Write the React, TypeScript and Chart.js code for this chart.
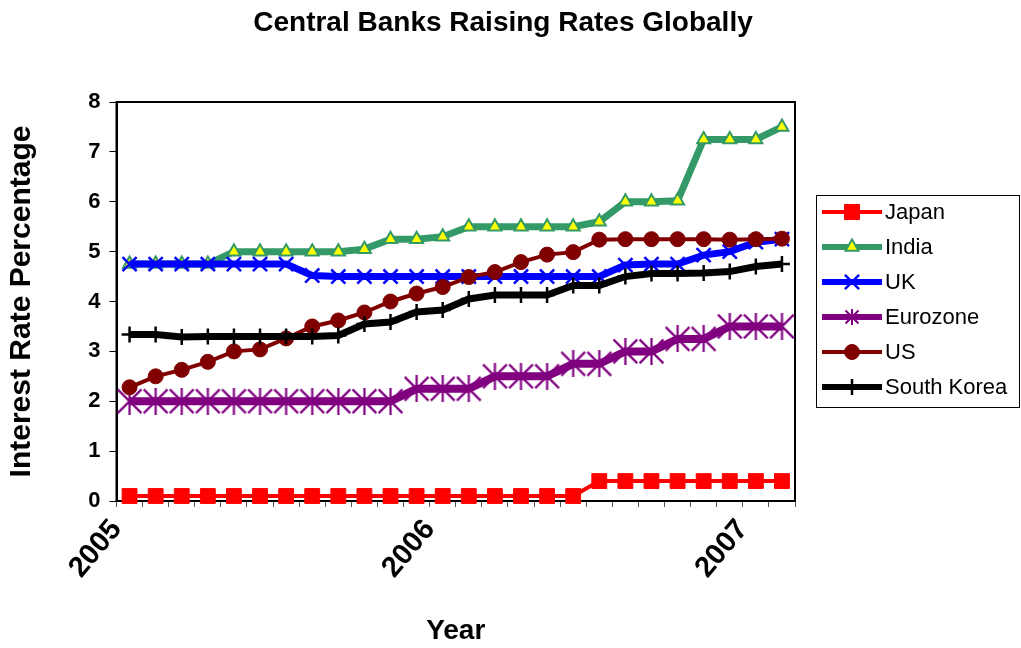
import React, { useEffect, useRef } from 'react';
import { Chart, registerables } from 'chart.js';
import { drawPoint } from 'chart.js/helpers';

Chart.register(...registerables);

// ---------------- data ----------------
const TITLE = 'Central Banks Raising Rates Globally';
const X_TITLE = 'Year';
const Y_TITLE = 'Interest Rate Percentage';

// monthly observations, Jan 2005 .. Feb 2007
const MONTHS = [
  'Jan 2005', 'Feb 2005', 'Mar 2005', 'Apr 2005', 'May 2005', 'Jun 2005',
  'Jul 2005', 'Aug 2005', 'Sep 2005', 'Oct 2005', 'Nov 2005', 'Dec 2005',
  'Jan 2006', 'Feb 2006', 'Mar 2006', 'Apr 2006', 'May 2006', 'Jun 2006',
  'Jul 2006', 'Aug 2006', 'Sep 2006', 'Oct 2006', 'Nov 2006', 'Dec 2006',
  'Jan 2007', 'Feb 2007',
];
const YEAR_LABELS = ['2005', '2006', '2007'];
const YEAR_START_INDEX = [0, 12, 24];
const Y_MIN = 0;
const Y_MAX = 8;

const SERIES_NAMES = ['Japan', 'India', 'UK', 'Eurozone', 'US', 'South Korea'];

const japan = [0.1, 0.1, 0.1, 0.1, 0.1, 0.1, 0.1, 0.1, 0.1, 0.1, 0.1, 0.1, 0.1, 0.1, 0.1, 0.1, 0.1, 0.1, 0.4, 0.4, 0.4, 0.4, 0.4, 0.4, 0.4, 0.4];
const india = [4.75, 4.75, 4.75, 4.75, 5, 5, 5, 5, 5, 5.05, 5.25, 5.25, 5.3, 5.5, 5.5, 5.5, 5.5, 5.5, 5.6, 6, 6, 6.02, 7.25, 7.25, 7.25, 7.5];
const uk = [4.75, 4.75, 4.75, 4.75, 4.75, 4.75, 4.75, 4.52, 4.5, 4.5, 4.5, 4.5, 4.5, 4.5, 4.5, 4.5, 4.5, 4.5, 4.5, 4.73, 4.75, 4.75, 4.93, 5.0, 5.19, 5.25];
const eurozone = [2, 2, 2, 2, 2, 2, 2, 2, 2, 2, 2, 2.25, 2.25, 2.25, 2.5, 2.5, 2.5, 2.75, 2.75, 3, 3, 3.25, 3.25, 3.5, 3.5, 3.5];
const us = [2.28, 2.5, 2.63, 2.79, 3.0, 3.04, 3.26, 3.5, 3.62, 3.78, 4.0, 4.16, 4.29, 4.49, 4.59, 4.79, 4.94, 4.99, 5.24, 5.25, 5.25, 5.25, 5.25, 5.24, 5.25, 5.26];
const southKorea = [3.34, 3.34, 3.29, 3.3, 3.3, 3.3, 3.3, 3.3, 3.32, 3.55, 3.59, 3.79, 3.83, 4.05, 4.13, 4.13, 4.13, 4.32, 4.32, 4.5, 4.56, 4.56, 4.57, 4.6, 4.7, 4.75];

const SERIES_VALUES = [japan, india, uk, eurozone, us, southKorea];

// ---------------- styles ----------------
const FONT = '"Liberation Sans", Arial, Helvetica, sans-serif';

function makeStar(size: number, color: string, lw: number) {
  const c = document.createElement('canvas');
  c.width = size;
  c.height = size;
  const g = c.getContext('2d')!;
  g.strokeStyle = color;
  g.lineWidth = lw;
  const m = lw / 2 + 0.5;
  g.beginPath();
  g.moveTo(m, m);
  g.lineTo(size - m, size - m);
  g.moveTo(size - m, m);
  g.lineTo(m, size - m);
  g.moveTo(size / 2, 0);
  g.lineTo(size / 2, size);
  g.stroke();
  return c;
}

type Style = {
  color: string;
  fill: string;
  lineWidth: number;
  legendLineWidth: number;
  pointStyle: any;
  radius: number;
  pointBorderWidth: number;
  legendPoint?: any;
};

function buildStyles(): Style[] {
  return [
    { color: '#FF0000', fill: '#FF0000', lineWidth: 4, legendLineWidth: 4, pointStyle: 'rect', radius: 10.5, pointBorderWidth: 1 },
    { color: '#339966', fill: '#FFFF00', lineWidth: 7, legendLineWidth: 6, pointStyle: 'triangle', radius: 7.5, pointBorderWidth: 2 },
    { color: '#0000FF', fill: '#0000FF', lineWidth: 7, legendLineWidth: 6, pointStyle: 'crossRot', radius: 10, pointBorderWidth: 2.5 },
    { color: '#800080', fill: '#800080', lineWidth: 8, legendLineWidth: 6, pointStyle: makeStar(27, '#800080', 2.2), radius: 13, pointBorderWidth: 2, legendPoint: makeStar(16, '#800080', 2) },
    { color: '#800000', fill: '#800000', lineWidth: 4, legendLineWidth: 4, pointStyle: 'circle', radius: 7.5, pointBorderWidth: 1 },
    { color: '#000000', fill: '#000000', lineWidth: 7, legendLineWidth: 6, pointStyle: 'cross', radius: 8, pointBorderWidth: 2.5 },
  ];
}

export default function App() {
  const ref = useRef<HTMLCanvasElement | null>(null);

  useEffect(() => {
    document.body.style.margin = '0';
    const canvas = ref.current;
    if (!canvas) return;
    const styles = buildStyles();

    const datasets = SERIES_NAMES.map((name, si) => {
      const st = styles[si];
      return {
        label: name,
        data: SERIES_VALUES[si].map((v, i) => ({ x: i + 0.5, y: v })),
        borderColor: st.color,
        backgroundColor: st.fill,
        borderWidth: st.lineWidth,
        pointStyle: st.pointStyle,
        pointRadius: st.radius,
        pointBorderColor: st.color,
        pointBackgroundColor: st.fill,
        pointBorderWidth: st.pointBorderWidth,
        tension: 0,
        order: SERIES_NAMES.length - si,
        clip: 8,
      };
    });

    const overlay = {
      id: 'overlay',
      beforeDatasetsDraw(chart: any) {
        const { ctx, chartArea } = chart;
        ctx.save();
        ctx.strokeStyle = '#000';
        ctx.lineWidth = 2;
        ctx.strokeRect(chartArea.left, chartArea.top, chartArea.right - chartArea.left, chartArea.bottom - chartArea.top);
        ctx.restore();
      },
      afterDraw(chart: any) {
        const ctx = chart.ctx as CanvasRenderingContext2D;
        ctx.save();
        ctx.fillStyle = '#000';
        ctx.textAlign = 'center';
        ctx.textBaseline = 'middle';
        ctx.font = `bold 28px ${FONT}`;
        ctx.fillText(TITLE, 503, 23);

        // legend
        ctx.lineWidth = 1;
        ctx.strokeStyle = '#000';
        ctx.strokeRect(816.5, 195.5, 203, 212);
        ctx.font = `22px ${FONT}`;
        ctx.textAlign = 'left';
        SERIES_NAMES.forEach((name, si) => {
          const st = styles[si];
          const y = 212 + si * 35;
          ctx.strokeStyle = st.color;
          ctx.lineWidth = st.legendLineWidth;
          ctx.beginPath();
          ctx.moveTo(822, y);
          ctx.lineTo(882, y);
          ctx.stroke();
          ctx.fillStyle = st.fill;
          ctx.strokeStyle = st.color;
          ctx.lineWidth = st.pointBorderWidth;
          drawPoint(ctx, {
            pointStyle: st.legendPoint || st.pointStyle,
            rotation: 0,
            radius: st.radius,
            borderWidth: st.pointBorderWidth,
          } as any, 852, y);
          ctx.fillStyle = '#000';
          ctx.fillText(name, 885, y + 1);
        });
        ctx.restore();
      },
    };

    const chart = new Chart(canvas, {
      type: 'line',
      data: { datasets: datasets as any },
      options: {
        animation: false,
        responsive: false,
        events: [],
        layout: { padding: { top: 102, right: 226, left: 0, bottom: 0 } },
        plugins: {
          legend: { display: false },
          title: { display: false },
          tooltip: { enabled: false },
        },
        scales: {
          x: {
            type: 'linear',
            min: 0,
            max: MONTHS.length,
            afterFit: (s: any) => { s.height = 147; },
            ticks: {
              stepSize: 1,
              autoSkip: false,
              minRotation: 50,
              maxRotation: 50,
              padding: 6,
              color: '#000',
              font: { family: FONT, size: 29, weight: 'bold' },
              callback: (v: any) => {
                const k = YEAR_START_INDEX.indexOf(Number(v));
                return k >= 0 ? YEAR_LABELS[k] : '';
              },
            },
            grid: { drawOnChartArea: false, tickLength: 6, color: '#555', lineWidth: 1 },
            border: { color: '#000', width: 2 },
            title: {
              display: true,
              text: X_TITLE,
              color: '#000',
              font: { family: FONT, size: 28, weight: 'bold' },
              padding: { top: 0, bottom: 0 },
            },
          },
          y: {
            min: Y_MIN,
            max: Y_MAX,
            afterFit: (s: any) => { s.width = 116.5; },
            ticks: {
              stepSize: 1,
              padding: 9,
              color: '#000',
              font: { family: FONT, size: 22, weight: 'bold' },
            },
            grid: { drawOnChartArea: false, tickLength: 7, color: '#000', lineWidth: 1 },
            border: { color: '#000', width: 2 },
            title: {
              display: true,
              text: Y_TITLE,
              color: '#000',
              font: { family: FONT, size: 30, weight: 'bold' },
              padding: { top: 4, bottom: 0 },
            },
          },
        },
      },
      plugins: [overlay],
    });
    return () => chart.destroy();
  }, []);

  return (
    <div style={{ width: 1021, height: 648, position: 'relative' }}>
      <canvas ref={ref} width={1021} height={648} style={{ display: 'block', width: 1021, height: 648 }} />
    </div>
  );
}
